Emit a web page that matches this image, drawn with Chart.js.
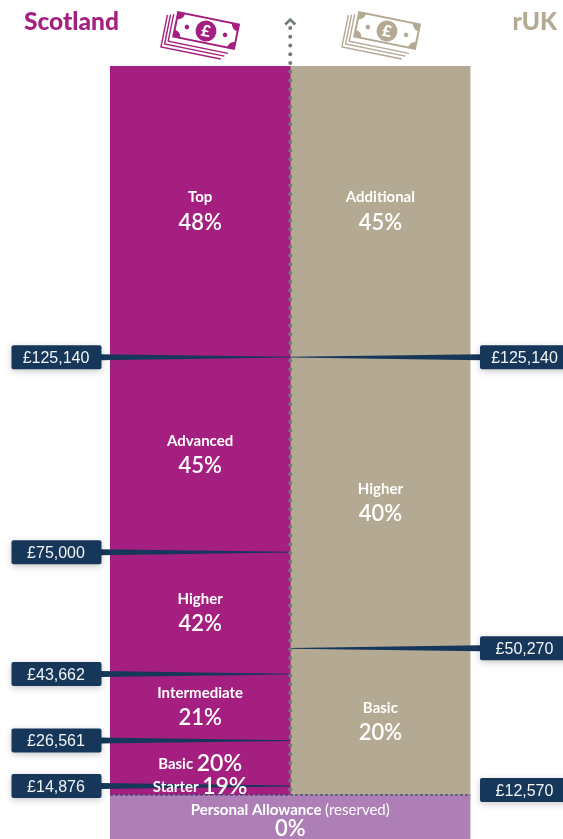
<!DOCTYPE html>
<html lang="en">

<head>
    <meta charset="UTF-8">
    <title>Scotland and rUK income tax bands</title>
    <style>
        body { margin: 0; background: #fff; overflow: hidden; }
    </style>
</head>

<body>
    <canvas id="myChart" width="563" height="839"></canvas>

    <script src="https://cdn.jsdelivr.net/npm/chart.js"></script>

    <script>
        const categories = ["Scotland", "rUK"];

        // upper limit of each band, in pounds, lowest band first
        const scotlandLimits = [12570, 14876, 26561, 43662, 75000, 125140, 200000];
        const scotlandNames = ["Personal Allowance", "Starter", "Basic", "Intermediate", "Higher", "Advanced", "Top"];
        const scotlandRates = [0, 19, 20, 21, 42, 45, 48];

        const rukLimits = [12570, 50270, 125140, 200000];
        const rukNames = ["Personal Allowance", "Basic", "Higher", "Additional"];
        const rukRates = [0, 20, 40, 45];

        // thresholds shown in the navy boxes
        const scotlandThresholds = [125140, 75000, 43662, 26561, 14876];
        const rukThresholds = [125140, 50270, 12570];

        const PURPLE = "#a41f7f";
        const TAN = "#b4a993";
        const LILAC = "#ad7fb6";
        const NAVY = "#17375a";
        const GREY = "#6f7b7d";
        const FONT = "Lato, 'Open Sans', sans-serif";

        function f_bands(limits, color, index) {
            let v_sets = [];
            for (let i = 0; i < limits.length; i++) {
                let v_data = [null, null];
                v_data[index] = [i == 0 ? 0 : limits[i - 1], limits[i]];
                v_sets.push({
                    label: categories[index] + " " + i,
                    data: v_data,
                    backgroundColor: i == 0 ? LILAC : color,
                    borderWidth: 0,
                    barPercentage: 1,
                    categoryPercentage: 1,
                    grouped: false
                });
            }
            return v_sets;
        }

        function f_money(v) {
            return "£" + v.toLocaleString("en-GB");
        }

        // one pound note stack, the same drawing on both sides
        function f_notes(ctx, cx, cy, color) {
            ctx.save();
            ctx.translate(cx, cy);
            ctx.rotate(11.5 * Math.PI / 180);
            ctx.strokeStyle = color;
            ctx.lineWidth = 1.4;
            for (let i = 1; i <= 3; i++) {
                ctx.beginPath();
                ctx.moveTo(-32 - i * 3, -11 + i);
                ctx.lineTo(-32 - i * 3, 14 + i * 3.5);
                ctx.lineTo(29 - i * 3, 14 + i * 3.5);
                ctx.stroke();
            }
            ctx.fillStyle = color;
            ctx.fillRect(-32, -14, 64, 27);
            ctx.fillStyle = "#fff";
            ctx.beginPath();
            ctx.moveTo(-24, -12);
            ctx.lineTo(24, -12);
            ctx.quadraticCurveTo(25, -7, 30, -6);
            ctx.lineTo(30, 5);
            ctx.quadraticCurveTo(25, 6, 24, 11);
            ctx.lineTo(-24, 11);
            ctx.quadraticCurveTo(-25, 6, -30, 5);
            ctx.lineTo(-30, -6);
            ctx.quadraticCurveTo(-25, -7, -24, -12);
            ctx.fill();
            ctx.fillStyle = color;
            ctx.beginPath();
            ctx.arc(0, 0, 10.5, 0, Math.PI * 2);
            ctx.arc(-19.5, 0, 2.3, 0, Math.PI * 2);
            ctx.fill();
            ctx.beginPath();
            ctx.arc(19.5, 0, 2.3, 0, Math.PI * 2);
            ctx.fill();
            ctx.fillStyle = "#fff";
            ctx.font = "900 16px " + FONT;
            ctx.textAlign = "center";
            ctx.textBaseline = "middle";
            ctx.fillText("£", 0, 0.5);
            ctx.restore();
        }

        function f_box(ctx, x, y, value) {
            ctx.save();
            ctx.shadowColor = "rgba(0,0,0,0.22)";
            ctx.shadowBlur = 7;
            ctx.shadowOffsetY = 2;
            ctx.fillStyle = NAVY;
            ctx.beginPath();
            ctx.roundRect(x, y - 12, 90, 24, 2);
            ctx.fill();
            ctx.restore();
            ctx.fillStyle = "#f2f4f6";
            ctx.font = "16px 'Liberation Sans', Arial, sans-serif";
            ctx.textAlign = "center";
            ctx.textBaseline = "middle";
            ctx.fillText(f_money(value), x + 44.5, y + 1.5);
        }

        function f_wedge(ctx, fromX, toX, y) {
            ctx.fillStyle = NAVY;
            ctx.beginPath();
            ctx.moveTo(fromX, y - 3);
            ctx.lineTo(toX, y - 0.4);
            ctx.lineTo(toX, y + 0.4);
            ctx.lineTo(fromX, y + 3);
            ctx.fill();
        }

        function f_bandLabels(ctx, yScale, x, limits, names, rates) {
            ctx.fillStyle = "#fff";
            ctx.textBaseline = "middle";
            ctx.textAlign = "center";
            for (let i = 1; i < limits.length; i++) {
                let v_height = yScale.getPixelForValue(limits[i - 1]) - yScale.getPixelForValue(limits[i]);
                let v_y = (yScale.getPixelForValue(limits[i - 1]) + yScale.getPixelForValue(limits[i])) / 2;
                let v_rate = rates[i] + "%";
                if (v_height < 60) {
                    // thin bands keep name and rate on one line
                    if (v_height < 20) v_y -= 4;
                    ctx.font = "700 15px " + FONT;
                    let v_nameW = ctx.measureText(names[i] + " ").width;
                    ctx.font = "600 23px " + FONT;
                    let v_rateW = ctx.measureText(v_rate).width;
                    let v_left = x - (v_nameW + v_rateW) / 2;
                    ctx.textAlign = "left";
                    ctx.font = "700 15px " + FONT;
                    ctx.fillText(names[i], v_left, v_y + 1);
                    ctx.font = "600 23px " + FONT;
                    ctx.fillText(v_rate, v_left + v_nameW, v_y);
                    ctx.textAlign = "center";
                } else {
                    ctx.font = "700 15px " + FONT;
                    ctx.fillText(names[i], x, v_y - 14);
                    ctx.font = "600 22px " + FONT;
                    ctx.fillText(v_rate, x, v_y + 11);
                }
            }
        }

        const bandPlugin = {
            id: "bandPlugin",
            afterDatasetsDraw(chart) {
                const ctx = chart.ctx;
                const yScale = chart.scales.y;
                const xScale = chart.scales.x;
                const area = chart.chartArea;
                const midX = (area.left + area.right) / 2;
                const v_scotX = xScale.getPixelForValue(0);
                const v_rukX = xScale.getPixelForValue(1);

                ctx.save();

                // wedges from the boxes to the centre line, under the labels
                for (let i = 0; i < scotlandThresholds.length; i++) {
                    f_wedge(ctx, 100, midX, yScale.getPixelForValue(scotlandThresholds[i]));
                }
                for (let i = 0; i < rukThresholds.length - 1; i++) {
                    f_wedge(ctx, 481, midX, yScale.getPixelForValue(rukThresholds[i]));
                }

                f_bandLabels(ctx, yScale, v_scotX, scotlandLimits, scotlandNames, scotlandRates);
                f_bandLabels(ctx, yScale, v_rukX, rukLimits, rukNames, rukRates);

                // personal allowance sits across both columns
                let v_paY = yScale.getPixelForValue(rukLimits[0]);
                ctx.fillStyle = "#fff";
                ctx.textBaseline = "middle";
                ctx.textAlign = "left";
                ctx.font = "700 15px " + FONT;
                let v_w1 = ctx.measureText(rukNames[0] + " ").width;
                ctx.font = "400 15px " + FONT;
                let v_w2 = ctx.measureText("(reserved)").width;
                ctx.font = "700 15px " + FONT;
                ctx.fillText(rukNames[0], midX - (v_w1 + v_w2) / 2, v_paY + 15);
                ctx.font = "400 15px " + FONT;
                ctx.fillText("(reserved)", midX - (v_w1 + v_w2) / 2 + v_w1, v_paY + 15);
                ctx.textAlign = "center";
                ctx.font = "600 22px " + FONT;
                ctx.fillText(rukRates[0] + "%", midX, v_paY + 34);

                // dashed line at the personal allowance
                ctx.strokeStyle = NAVY;
                ctx.lineWidth = 1;
                ctx.setLineDash([3, 2]);
                ctx.beginPath();
                ctx.moveTo(area.left, v_paY);
                ctx.lineTo(area.right, v_paY);
                ctx.stroke();
                ctx.setLineDash([]);

                // dotted arrow up the middle
                ctx.fillStyle = GREY;
                for (let y = 28; y <= v_paY - 4; y += 8.75) {
                    ctx.beginPath();
                    ctx.arc(midX, y, 2, 0, Math.PI * 2);
                    ctx.fill();
                }
                ctx.strokeStyle = GREY;
                ctx.lineWidth = 2.6;
                ctx.beginPath();
                ctx.moveTo(midX - 5, 24.5);
                ctx.lineTo(midX, 19.5);
                ctx.lineTo(midX + 5, 24.5);
                ctx.stroke();

                for (let i = 0; i < scotlandThresholds.length; i++) {
                    f_box(ctx, 11.5, yScale.getPixelForValue(scotlandThresholds[i]), scotlandThresholds[i]);
                }
                for (let i = 0; i < rukThresholds.length; i++) {
                    let v_y = yScale.getPixelForValue(rukThresholds[i]);
                    // lowest box is lifted clear of the dashed line
                    if (i == rukThresholds.length - 1) v_y -= 5;
                    f_box(ctx, 480, v_y, rukThresholds[i]);
                }

                // headers
                ctx.textBaseline = "middle";
                ctx.font = "900 24.5px " + FONT;
                ctx.fillStyle = PURPLE;
                ctx.textAlign = "left";
                ctx.fillText(categories[0], 24, 22);
                ctx.fillStyle = TAN;
                ctx.textAlign = "right";
                ctx.fillText(categories[1], 557, 22);

                f_notes(ctx, 206, 31, PURPLE);
                f_notes(ctx, 387, 31, TAN);
                ctx.restore();
            }
        };

        const ctx = document.getElementById("myChart");

        let v_chart = new Chart(ctx, {
            type: "bar",
            data: {
                labels: categories,
                datasets: f_bands(scotlandLimits, PURPLE, 0).concat(f_bands(rukLimits, TAN, 1))
            },
            options: {
                responsive: false,
                animation: false,
                layout: { padding: { left: 110, right: 92.5, top: 66, bottom: 0 } },
                plugins: { legend: { display: false }, tooltip: { enabled: false } },
                scales: {
                    x: { display: false },
                    // bottom of the page cuts the first pounds of the allowance off
                    y: { display: false, min: 1250, max: 200000 }
                }
            },
            plugins: [bandPlugin]
        });
    </script>
</body>

</html>
